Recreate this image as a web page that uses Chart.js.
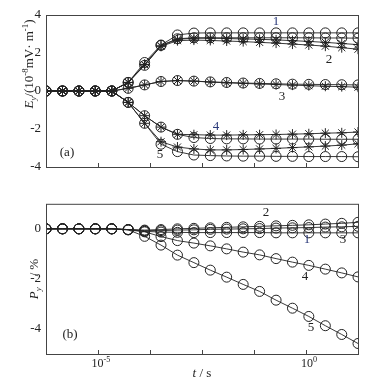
<!DOCTYPE html>
<html>
<head>
<meta charset="utf-8">
<script src="https://cdn.jsdelivr.net/npm/chart.js@4.4.1/dist/chart.umd.min.js"></script>
<style>
  html, body { margin: 0; padding: 0; background: #fff; }
  #wrap { position: relative; width: 382px; height: 382px; }
  canvas { position: absolute; left: 0; }
</style>
</head>
<body>
<div id="wrap">
  <canvas id="panelA" width="382" height="191" style="top:0"></canvas>
  <canvas id="panelB" width="382" height="191" style="top:191px"></canvas>
</div>
<script>
// time points (s), log axis
const times = [5.62e-7, 1.40e-6, 3.47e-6, 8.61e-6, 2.14e-5, 5.31e-5, 1.32e-4, 3.27e-4, 8.13e-4, 2.02e-3,
               5.01e-3, 1.24e-2, 3.09e-2, 7.67e-2, 0.191, 0.473, 1.17, 2.92, 7.24, 17.8];
const xTicks = [1e-5, 1.778e-4, 3.162e-3, 5.623e-2, 1];
const xTickLabels = [['10', '-5'], null, null, null, ['10', '0']];

// panel (a): E_y, circles and asterisks for curves 1-5
const ey1Circle = [0, 0, 0, 0, 0, 0.45, 1.5, 2.42, 2.95, 3.05, 3.06, 3.06, 3.06, 3.06, 3.06, 3.06, 3.06, 3.06, 3.06, 3.06];
const ey1Star   = [0, 0, 0, 0, 0, 0.45, 1.4, 2.38, 2.72, 2.78, 2.78, 2.76, 2.74, 2.72, 2.69, 2.65, 2.61, 2.56, 2.5, 2.44];
const ey2Circle = [0, 0, 0, 0, 0, 0.45, 1.35, 2.4, 2.75, 2.8, 2.8, 2.8, 2.8, 2.8, 2.8, 2.8, 2.8, 2.79, 2.79, 2.78];
const ey2Star   = [0, 0, 0, 0, 0, 0.45, 1.38, 2.35, 2.65, 2.68, 2.66, 2.63, 2.6, 2.56, 2.52, 2.47, 2.42, 2.36, 2.28, 2.2];
const ey3Circle = [0, 0, 0, 0, 0, 0.14, 0.32, 0.5, 0.55, 0.52, 0.48, 0.45, 0.42, 0.4, 0.38, 0.36, 0.35, 0.34, 0.33, 0.32];
const ey3Star   = [0, 0, 0, 0, 0, 0.14, 0.32, 0.5, 0.55, 0.52, 0.47, 0.43, 0.4, 0.37, 0.34, 0.31, 0.28, 0.25, 0.23, 0.2];
const ey4Circle = [0, 0, 0, 0, 0, -0.6, -1.3, -1.9, -2.28, -2.45, -2.5, -2.52, -2.52, -2.53, -2.53, -2.53, -2.53, -2.54, -2.54, -2.54];
const ey4Star   = [0, 0, 0, 0, 0, -0.6, -1.3, -1.9, -2.28, -2.3, -2.32, -2.32, -2.31, -2.3, -2.29, -2.27, -2.25, -2.22, -2.2, -2.16];
const ey5Circle = [0, 0, 0, 0, 0, -0.6, -1.7, -2.8, -3.19, -3.37, -3.4, -3.42, -3.43, -3.43, -3.44, -3.44, -3.45, -3.45, -3.45, -3.46];
const ey5Star   = [0, 0, 0, 0, 0, -0.6, -1.7, -2.67, -2.95, -3.05, -3.1, -3.1, -3.08, -3.05, -3.02, -2.98, -2.94, -2.9, -2.85, -2.78];

// panel (b): P_y in %
const py1 = [0, 0, 0, 0, 0, -0.03, -0.07, -0.07, -0.05, -0.04, -0.02, -0.01, 0, 0.01, 0.03, 0.04, 0.05, 0.07, 0.08, 0.1];
const py2 = [0, 0, 0, 0, 0, -0.03, -0.05, -0.03, 0, 0.02, 0.04, 0.06, 0.08, 0.1, 0.12, 0.14, 0.16, 0.19, 0.22, 0.26];
const py3 = [0, 0, 0, 0, 0, -0.03, -0.1, -0.13, -0.14, -0.15, -0.15, -0.15, -0.15, -0.15, -0.16, -0.16, -0.16, -0.16, -0.16, -0.16];
const py4 = [0, 0, 0, 0, 0, -0.04, -0.12, -0.31, -0.47, -0.57, -0.68, -0.8, -0.93, -1.04, -1.19, -1.33, -1.46, -1.61, -1.76, -1.92];
const py5 = [0, 0, 0, 0, 0, -0.04, -0.3, -0.65, -1.05, -1.35, -1.65, -1.93, -2.22, -2.5, -2.85, -3.17, -3.5, -3.87, -4.22, -4.58];

const FONT = "'Liberation Serif', 'Times New Roman', serif";
const INK = '#222';
Chart.defaults.font.family = FONT;

function series(vals, style) {
  return {
    data: times.map((t, i) => ({ x: t, y: vals[i] })),
    pointStyle: style,
    pointRadius: 5,
    pointBorderColor: INK,
    pointBackgroundColor: 'rgba(0,0,0,0)',
    pointBorderWidth: 1,
    borderColor: INK,
    borderWidth: 0.9,
    fill: false,
    tension: 0
  };
}

// draws a run of text pieces (sub/superscripts, extra gaps) along a baseline
function drawRich(ctx, parts, x, y, size) {
  const fontOf = p => (p.it ? 'italic ' : '') + ((p.sub || p.sup) ? size * 0.68 : size) + 'px ' + FONT;
  let w = 0;
  parts.forEach(p => { ctx.font = fontOf(p); w += (p.gap || 0) + ctx.measureText(p.t).width; });
  let cx = x - w / 2;
  ctx.textAlign = 'left';
  ctx.textBaseline = 'alphabetic';
  parts.forEach(p => {
    ctx.font = fontOf(p);
    cx += p.gap || 0;
    const dy = p.sub ? size * 0.25 : p.sup ? -size * 0.42 : 0;
    ctx.fillText(p.t, cx, y + dy);
    cx += ctx.measureText(p.t).width;
  });
}

const decor = {
  id: 'decor',
  afterDraw(chart, args, o) {
    const { ctx, chartArea: a } = chart;
    const xs = chart.scales.x;
    ctx.save();
    ctx.strokeStyle = '#444';
    ctx.lineWidth = 1;
    ctx.strokeRect(a.left + 0.5, a.top + 0.5, a.right - a.left, a.bottom - a.top);
    ctx.beginPath();
    xTicks.forEach(v => {
      const px = Math.round(xs.getPixelForValue(v)) + 0.5;
      ctx.moveTo(px, a.bottom);
      ctx.lineTo(px, a.bottom - 4);
    });
    ctx.stroke();
    ctx.fillStyle = INK;
    if (o.xLabels) {
      xTicks.forEach((v, i) => {
        const l = xTickLabels[i];
        if (!l) return;
        drawRich(ctx, [{ t: l[0] }, { t: l[1], sup: 1 }], xs.getPixelForValue(v) + 3, a.bottom + 13, 12);
      });
      drawRich(ctx, [{ t: 't', it: 1 }, { t: ' / s' }], (a.left + a.right) / 2, a.bottom + 23, 13);
    }
    // y title
    ctx.save();
    ctx.translate(o.yTitle.x, o.yTitle.y);
    ctx.rotate(-Math.PI / 2);
    drawRich(ctx, o.yTitle.parts, 0, 0, 13);
    ctx.restore();
    // curve numbers and panel tag
    ctx.font = '13px ' + FONT;
    ctx.textAlign = 'center';
    ctx.textBaseline = 'middle';
    o.notes.forEach(n => {
      ctx.fillStyle = n.c || INK;
      ctx.fillText(n.t, n.x, n.y);
    });
    ctx.restore();
  }
};

function makeOptions(yMin, yMax, yTickVals, pad) {
  return {
    responsive: false,
    animation: false,
    devicePixelRatio: 1,
    layout: { padding: pad },
    plugins: { legend: { display: false }, tooltip: { enabled: false } },
    scales: {
      x: {
        type: 'logarithmic',
        min: 5.62e-7,
        max: 17.8,
        display: false
      },
      y: {
        min: yMin,
        max: yMax,
        grid: { display: false, drawTicks: false },
        border: { display: false },
        afterBuildTicks: s => { s.ticks = yTickVals.map(v => ({ value: v })); },
        afterFit: s => { s.width = 46; },
        ticks: { color: INK, padding: 5, font: { size: 13, family: FONT } }
      }
    }
  };
}

const optA = makeOptions(-4, 4, [-4, -2, 0, 2, 4], { left: 0, right: 24, top: 15, bottom: 24 });
optA.plugins.decor = {
  xLabels: false,
  yTitle: {
    x: 33, y: 64,
    parts: [{ t: 'E', it: 1 }, { t: 'y', it: 1, sub: 1 }, { t: '/(10' }, { t: '-8', sup: 1 },
            { t: 'mV· m' }, { t: '-1', sup: 1 }, { t: ')' }]
  },
  notes: [
    { t: '1', x: 276, y: 22, c: '#2b3a7a' }, { t: '2', x: 329, y: 60 }, { t: '3', x: 282, y: 97 },
    { t: '4', x: 216, y: 127, c: '#2b3a7a' }, { t: '5', x: 160, y: 155 }, { t: '(a)', x: 67, y: 153 }
  ]
};

new Chart(document.getElementById('panelA'), {
  type: 'line',
  data: {
    datasets: [
      series(ey1Circle, 'circle'), series(ey1Star, 'star'),
      series(ey2Circle, 'circle'), series(ey2Star, 'star'),
      series(ey3Circle, 'circle'), series(ey3Star, 'star'),
      series(ey4Circle, 'circle'), series(ey4Star, 'star'),
      series(ey5Circle, 'circle'), series(ey5Star, 'star')
    ]
  },
  options: optA,
  plugins: [decor]
});

const optB = makeOptions(-5, 1, [-4, -2, 0], { left: 0, right: 24, top: 10, bottom: 28 });
optB.plugins.decor = {
  xLabels: true,
  yTitle: {
    x: 38, y: 88,
    parts: [{ t: 'P', it: 1 }, { t: 'y', it: 1, sub: 1 }, { t: '/', gap: 11 }, { t: '%', gap: 3 }]
  },
  notes: [
    { t: '2', x: 266, y: 22 }, { t: '1', x: 307, y: 49, c: '#2b3a7a' }, { t: '3', x: 343, y: 49 },
    { t: '4', x: 305, y: 86 }, { t: '5', x: 311, y: 137 }, { t: '(b)', x: 70, y: 144 }
  ]
};

new Chart(document.getElementById('panelB'), {
  type: 'line',
  data: {
    datasets: [
      series(py1, 'circle'), series(py2, 'circle'), series(py3, 'circle'),
      series(py4, 'circle'), series(py5, 'circle')
    ]
  },
  options: optB,
  plugins: [decor]
});
</script>
</body>
</html>
